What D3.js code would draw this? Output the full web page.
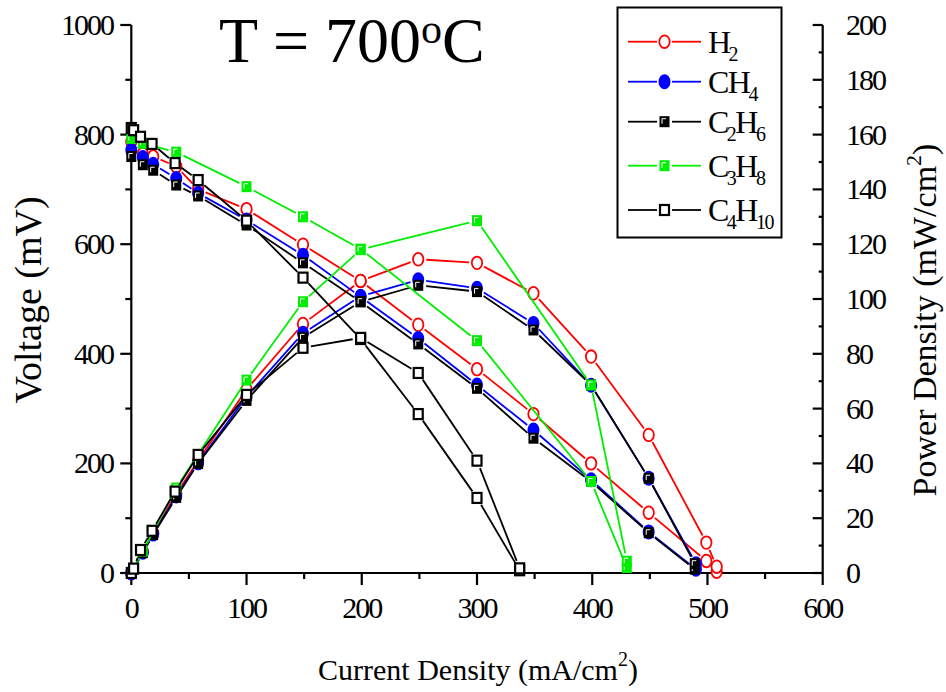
<!DOCTYPE html>
<html>
<head>
<meta charset="utf-8">
<script src="https://cdn.jsdelivr.net/npm/d3@7"></script>
<style>
  html, body { margin: 0; padding: 0; background: #fff; }
  svg { display: block; }
  text { font-family: "Liberation Serif", "Times New Roman", serif; fill: #000; }
</style>
</head>
<body>
<svg id="chart" width="946" height="692"></svg>
<script>
// ---------------- data ----------------
const currentH2   = [0, 10, 19, 39, 58, 100, 149, 199, 249, 300, 349, 399, 449, 499, 508];
const voltageH2   = [787, 765, 760, 742, 700, 664, 599, 533, 453, 372, 290, 200, 110, 22, 2.4];
const powerH2     = [0, 7.7, 14.5, 29, 41, 67, 90.9, 106.6, 114.5, 113.2, 102.1, 79, 50.4, 11.1, 2.3];

const currentCH4  = [0, 10, 19, 39, 58, 100, 149, 199, 249, 300, 349, 399, 449, 490];
const voltageCH4  = [772, 758, 746, 720, 693, 644, 580, 504, 428, 343, 261, 170, 75, 7];
const powerCH4    = [0, 7.6, 14.2, 28.1, 40.2, 64.4, 87.5, 101, 107, 103.9, 91.1, 68.5, 34.6, 3.4];

const currentC2H6 = [0, 10, 19, 39, 58, 100, 149, 199, 249, 300, 349, 399, 449, 489];
const voltageC2H6 = [760, 745, 735, 708, 688, 635, 566, 495, 418, 337, 246, 167, 73.5, 7];
const powerC2H6   = [0, 7.4, 14.0, 27.6, 40, 63, 86, 99, 105, 102.7, 88.7, 68.6, 34.6, 3.4];

const currentC3H8 = [0, 10, 39, 100, 149, 199, 300, 399, 430];
const voltageC3H8 = [793, 784, 768, 705, 650, 591, 424, 167, 10];
const powerC3H8   = [0, 8, 31, 70.4, 99, 118, 128.6, 68.6, 4.3];

const currentC4H10 = [0, 2, 8, 18, 38, 58, 100, 149, 199, 249, 300, 337];
const voltageC4H10 = [812, 808, 796, 783, 748, 717, 643, 539, 427, 290, 137, 5];
const powerC4H10   = [0, 1.6, 8.4, 15.4, 29.7, 43.1, 65, 82.2, 85.8, 73, 41, 1.7];

const xTicks = [0, 100, 200, 300, 400, 500, 600];
const vTicks = [0, 200, 400, 600, 800, 1000];
const pTicks = [0, 20, 40, 60, 80, 100, 120, 140, 160, 180, 200];

const seriesNames = [["H", "2"], ["CH", "4"], ["C", "2", "H", "6"], ["C", "3", "H", "8"], ["C", "4", "H", "10"]];

// ---------------- layout ----------------
const svg = d3.select("#chart");
const X0 = 131.3, X1 = 822.7, Y0 = 573, Y1 = 25;
const x = d3.scaleLinear().domain([0, 600]).range([X0, X1]);
const yV = d3.scaleLinear().domain([0, 1000]).range([Y0, Y1]);
const yP = d3.scaleLinear().domain([0, 200]).range([Y0, Y1]);

const GREEN = "#00ee00";
const series = [
  { cur: currentH2,   v: voltageH2,   p: powerH2,   color: "#ff0000", marker: "openCircle" },
  { cur: currentCH4,  v: voltageCH4,  p: powerCH4,  color: "#0000ff", marker: "filledCircle" },
  { cur: currentC2H6, v: voltageC2H6, p: powerC2H6, color: "#000000", marker: "filledSquare" },
  { cur: currentC3H8, v: voltageC3H8, p: powerC3H8, color: GREEN,     marker: "filledSquare" },
  { cur: currentC4H10,v: voltageC4H10,p: powerC4H10,color: "#000000", marker: "openSquare" }
];

// ---------------- axes ----------------
const axisG = svg.append("g");
const sw = 2.2;
// left axis
const leftAxis = d3.axisLeft(yV).tickValues(d3.range(0, 1001, 100)).tickSize(0).tickFormat("");
axisG.append("g").attr("transform", `translate(${X0},0)`).call(leftAxis)
  .call(g => g.select(".domain").attr("stroke-width", sw).attr("d", `M0,${Y1}V${Y0}`));
axisG.append("g").selectAll("line").data(d3.range(0, 1001, 100)).join("line")
  .attr("x1", X0).attr("x2", d => X0 - (d % 200 === 0 ? 11 : 6))
  .attr("y1", d => yV(d)).attr("y2", d => yV(d)).attr("stroke", "#000").attr("stroke-width", sw);
axisG.append("g").selectAll("text").data(vTicks).join("text")
  .attr("x", 113).attr("y", d => yV(d) + 10).attr("text-anchor", "end")
  .attr("font-size", 30).attr("letter-spacing", -2).text(d => d);

// bottom axis
const bottomAxis = d3.axisBottom(x).tickValues(xTicks).tickSize(0).tickFormat("");
axisG.append("g").attr("transform", `translate(0,${Y0})`).call(bottomAxis)
  .call(g => g.select(".domain").attr("stroke-width", sw).attr("d", `M${X0 - 11},0H${X1}`));
axisG.append("g").selectAll("line").data(d3.range(0, 601, 50)).join("line")
  .attr("x1", d => x(d)).attr("x2", d => x(d))
  .attr("y1", Y0).attr("y2", d => Y0 + (d % 100 === 0 ? 12 : 6)).attr("stroke", "#000").attr("stroke-width", sw);
axisG.append("g").selectAll("text").data(xTicks).join("text")
  .attr("x", d => x(d)).attr("y", 618).attr("text-anchor", "middle")
  .attr("font-size", 30).attr("letter-spacing", -2).text(d => d);

// right axis
const rightAxis = d3.axisRight(yP).tickValues(pTicks).tickSize(0).tickFormat("");
axisG.append("g").attr("transform", `translate(${X1},0)`).call(rightAxis)
  .call(g => g.select(".domain").attr("stroke-width", sw).attr("d", `M0,${Y1}V${Y0}`));
axisG.append("g").selectAll("line").data(d3.range(0, 201, 10)).join("line")
  .attr("x1", X1).attr("x2", d => X1 - (d % 20 === 0 ? 10 : 4))
  .attr("y1", d => yP(d)).attr("y2", d => yP(d)).attr("stroke", "#000").attr("stroke-width", sw);
axisG.append("g").selectAll("text").data(pTicks).join("text")
  .attr("x", 846).attr("y", d => yP(d) + 10).attr("text-anchor", "start")
  .attr("font-size", 30).attr("letter-spacing", -2).text(d => d);

// axis titles
svg.append("text").attr("transform", "translate(41,300) rotate(-90)")
  .attr("text-anchor", "middle").attr("font-size", 38).text("Voltage (mV)");
const xl = svg.append("text").attr("x", 478).attr("y", 680).attr("text-anchor", "middle").attr("font-size", 30);
xl.append("tspan").text("Current Density (mA/cm");
xl.append("tspan").attr("dy", -14).attr("font-size", 20).text("2");
xl.append("tspan").attr("dy", 14).text(")");
const yr = svg.append("text").attr("transform", "translate(936,320) rotate(-90)")
  .attr("text-anchor", "middle").attr("font-size", 34);
yr.append("tspan").text("Power Density (mW/cm");
yr.append("tspan").attr("dy", -15).attr("font-size", 22).text("2");
yr.append("tspan").attr("dy", 15).text(")");

// title
const tt = svg.append("text").attr("x", 219).attr("y", 62).attr("font-size", 64);
tt.append("tspan").text("T = 700");
tt.append("tspan").attr("dy", -19).attr("font-size", 42).text("o");
tt.append("tspan").attr("dy", 19).text("C");

// ---------------- marks ----------------
function drawMarker(g, m, color, cx, cy) {
  if (m === "openCircle") {
    g.append("ellipse").attr("cx", cx).attr("cy", cy).attr("rx", 5.2).attr("ry", 6.3)
      .attr("fill", "#fff").attr("stroke", color).attr("stroke-width", 1.8);
  } else if (m === "filledCircle") {
    g.append("ellipse").attr("cx", cx).attr("cy", cy).attr("rx", 6).attr("ry", 7.5).attr("fill", color);
  } else if (m === "filledSquare") {
    g.append("rect").attr("x", cx - 5).attr("y", cy - 5.5).attr("width", 10).attr("height", 11).attr("fill", color);
    g.append("path").attr("d", `M${cx - 2.5},${cy + 2}V${cy - 3}H${cx + 1.5}`)
      .attr("fill", "none").attr("stroke", "#fff").attr("stroke-width", 1);
  } else {
    g.append("rect").attr("x", cx - 4.5).attr("y", cy - 5).attr("width", 9).attr("height", 10)
      .attr("fill", "#fff").attr("stroke", color).attr("stroke-width", 2.2);
  }
}

function gappedSegments(pts, gap) {
  const segs = [];
  for (let i = 0; i < pts.length - 1; i++) {
    const [ax, ay] = pts[i], [bx, by] = pts[i + 1];
    const dx = bx - ax, dy = by - ay, L = Math.hypot(dx, dy);
    if (L <= 2 * gap) continue;
    const ux = dx / L, uy = dy / L;
    segs.push([ax + ux * gap, ay + uy * gap, bx - ux * gap, by - uy * gap]);
  }
  return segs;
}

const plot = svg.append("g");
series.forEach(s => {
  const g = plot.append("g");
  const vPts = s.cur.map((c, i) => [x(c), yV(s.v[i])]);
  const pPts = s.cur.map((c, i) => [x(c), yP(s.p[i])]);
  [vPts, pPts].forEach(pts => {
    g.append("g").selectAll("line").data(gappedSegments(pts, 8)).join("line")
      .attr("x1", d => d[0]).attr("y1", d => d[1]).attr("x2", d => d[2]).attr("y2", d => d[3])
      .attr("stroke", s.color).attr("stroke-width", 1.8);
  });
  [vPts, pPts].forEach(pts => pts.forEach(([px, py]) => drawMarker(g, s.marker, s.color, px, py)));
});

// ---------------- legend ----------------
const lg = svg.append("g");
lg.append("rect").attr("x", 617.5).attr("y", 7.5).attr("width", 164).attr("height", 230)
  .attr("fill", "#fff").attr("stroke", "#000").attr("stroke-width", 2);
const rowY = [41.7, 81.7, 121.7, 165.7, 210];
series.forEach((s, i) => {
  const y = rowY[i];
  lg.append("line").attr("x1", 628).attr("x2", 657).attr("y1", y).attr("y2", y).attr("stroke", s.color).attr("stroke-width", 1.8);
  lg.append("line").attr("x1", 672).attr("x2", 701).attr("y1", y).attr("y2", y).attr("stroke", s.color).attr("stroke-width", 1.8);
  drawMarker(lg, s.marker, s.color, 664.5, y);
  const parts = seriesNames[i];
  // main glyphs and subscripts as separate texts so they do not share one tall box
  let cx = 708;
  parts.forEach((p, k) => {
    const isSub = k % 2 === 1;
    const t = lg.append("text").attr("x", cx).attr("y", isSub ? y + 19 : y + 11)
      .attr("font-size", isSub ? 20 : 32).attr("letter-spacing", -1.5).text(p);
    cx += t.node().getComputedTextLength() + (isSub ? 0 : -1);
  });
});
</script>
</body>
</html>
